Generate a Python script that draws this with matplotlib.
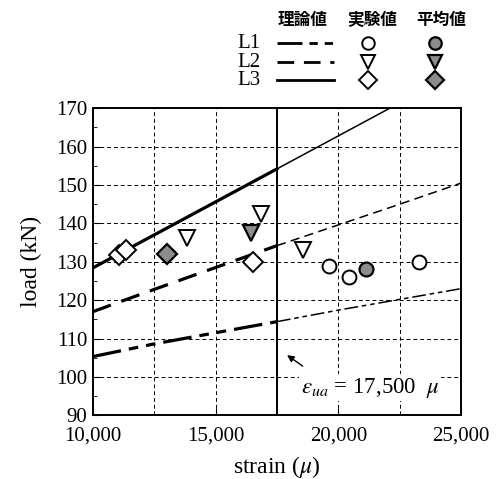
import matplotlib
matplotlib.use("Agg")
import matplotlib.pyplot as plt
import matplotlib.transforms as mtransforms
from matplotlib.lines import Line2D
from matplotlib.ticker import MultipleLocator, FuncFormatter

plt.rcParams['font.family'] = ['Liberation Serif', 'DejaVu Serif']
plt.rcParams['mathtext.fontset'] = 'stix'

# theoretical lines (strain, load)
strain_th = [10000, 12500, 15000, 17500, 20000, 22500, 25000]
L1_th = [105.3, 108.6, 111.5, 114.4, 117.4, 120.2, 123.0]
L2_th = [117.0, 122.8, 128.5, 134.2, 139.6, 145.0, 150.5]
L3_th = [128.4, 137.0, 145.6, 154.2, 162.8, 171.4, 180.0]
split = 17500

# experimental values
L1_exp_x = [19600, 20420, 23270]
L1_exp_y = [129.0, 126.1, 130.0]
L2_exp_x = [13830, 16840, 18550]
L2_exp_y = [136.3, 142.4, 133.0]
L3_exp_x = [11060, 11340, 16510]
L3_exp_y = [131.8, 133.1, 130.0]

# average values
L1_avg = (21120, 128.2)
L2_avg = (16430, 137.6)
L3_avg = (13010, 132.0)

fig = plt.figure(figsize=(4.99, 4.79), dpi=100)
ax = fig.add_axes([0.186, 0.133, 0.738, 0.641])

dash_L1 = (0, (9, 2.5, 3, 2.5, 3, 2.5))
dash_L2 = (0, (6, 3.5))

def two_part(xs, ys, ls):
    lo_x = [x for x in xs if x <= split]
    lo_y = [y for x, y in zip(xs, ys) if x <= split]
    hi_x = [x for x in xs if x >= split]
    hi_y = [y for x, y in zip(xs, ys) if x >= split]
    ax.plot(lo_x, lo_y, color='black', lw=2.3, linestyle=ls, zorder=3)
    ax.plot(hi_x, hi_y, color='black', lw=1.1, linestyle=ls, zorder=3)

two_part(strain_th, L1_th, dash_L1)
two_part(strain_th, L2_th, dash_L2)
two_part(strain_th, L3_th, '-')

ax.axvline(split, color='black', lw=1.4, zorder=3)

gray = '#8c8c8c'
ax.plot(L1_exp_x, L1_exp_y, 'o', ms=10, mfc='white', mec='black', mew=1.4, zorder=4)
ax.plot(L2_exp_x, L2_exp_y, 'v', ms=11, mfc='white', mec='black', mew=1.4, zorder=4)
ax.plot(L3_exp_x, L3_exp_y, 'D', ms=10, mfc='white', mec='black', mew=1.4, zorder=4)
ax.plot(*L1_avg, 'o', ms=10, mfc=gray, mec='black', mew=1.6, zorder=4)
ax.plot(*L2_avg, 'v', ms=11, mfc=gray, mec='black', mew=1.6, zorder=4)
ax.plot(*L3_avg, 'D', ms=10, mfc=gray, mec='black', mew=1.6, zorder=4)

ax.set_xlim(10000, 25000)
ax.set_ylim(90, 170)
ax.xaxis.set_major_locator(MultipleLocator(5000))
ax.xaxis.set_minor_locator(MultipleLocator(2500))
ax.yaxis.set_major_locator(MultipleLocator(10))
ax.yaxis.set_minor_locator(MultipleLocator(5))
ax.xaxis.set_major_formatter(FuncFormatter(lambda v, p: f"{int(v):,}"))
ax.grid(True, which='major', color='black', linestyle=(0, (4, 3)), lw=0.7)
ax.grid(True, which='minor', axis='x', color='black', linestyle=(0, (4, 3)), lw=0.7)
ax.tick_params(which='both', direction='in', labelsize=15, top=False, right=False)
ax.tick_params(which='major', length=5)
ax.tick_params(which='minor', length=3)
ax.tick_params(axis='x', pad=8)
ax.tick_params(axis='y', pad=4)
for s in ax.spines.values():
    s.set_linewidth(1.4)

# lift the lowest y label a little so it clears the first x label
fig.canvas.draw()
lab90 = ax.yaxis.get_major_ticks()[0].label1
lab90.set_transform(lab90.get_transform() +
                    mtransforms.ScaledTranslation(0, 5 / 100, fig.dpi_scale_trans))

ax.set_xlabel(r'strain ($\mu$)', fontsize=17, labelpad=6)
ax.set_ylabel('load (kN)', fontsize=17, labelpad=10)

ax.annotate('', xy=(17820, 106.1), xytext=(18640, 102.4),
            arrowprops=dict(arrowstyle='-|>', color='black', lw=1.0, mutation_scale=10))
ax.text(21300, 97.2, r'$\varepsilon_{ua}$' + ' = 17,500  ' + r'$\mu$',
        fontsize=16.5, ha='center', va='center',
        bbox=dict(facecolor='white', edgecolor='none', pad=1))

# legend block at the top
jp = ['Noto Sans CJK JP', 'DejaVu Sans']
for x, t in [(0.606, '理論値'), (0.745, '実験値'), (0.885, '平均値')]:
    fig.text(x, 0.958, t, family=jp, fontsize=12, fontweight='bold', ha='center', va='center')

rows = [('L1', dash_L1, 'o'), ('L2', dash_L2, 'v'), ('L3', '-', 'D')]
row_y = [0.910, 0.870, 0.832]
for (name, ls, mk), y in zip(rows, row_y):
    fig.text(0.522, y, name, fontsize=15, ha='right', va='center')
    fig.add_artist(Line2D([0.555, 0.670], [y, y], color='black', lw=2.0, linestyle=ls,
                          transform=fig.transFigure))
    ms = 10 if mk == 'v' else 9
    fig.add_artist(Line2D([0.738], [y], marker=mk, ms=ms, mfc='white', mec='black', mew=1.4,
                          linestyle='none', transform=fig.transFigure))
    fig.add_artist(Line2D([0.872], [y], marker=mk, ms=ms, mfc=gray, mec='black', mew=1.6,
                          linestyle='none', transform=fig.transFigure))

fig.savefig('out.png', dpi=100)
